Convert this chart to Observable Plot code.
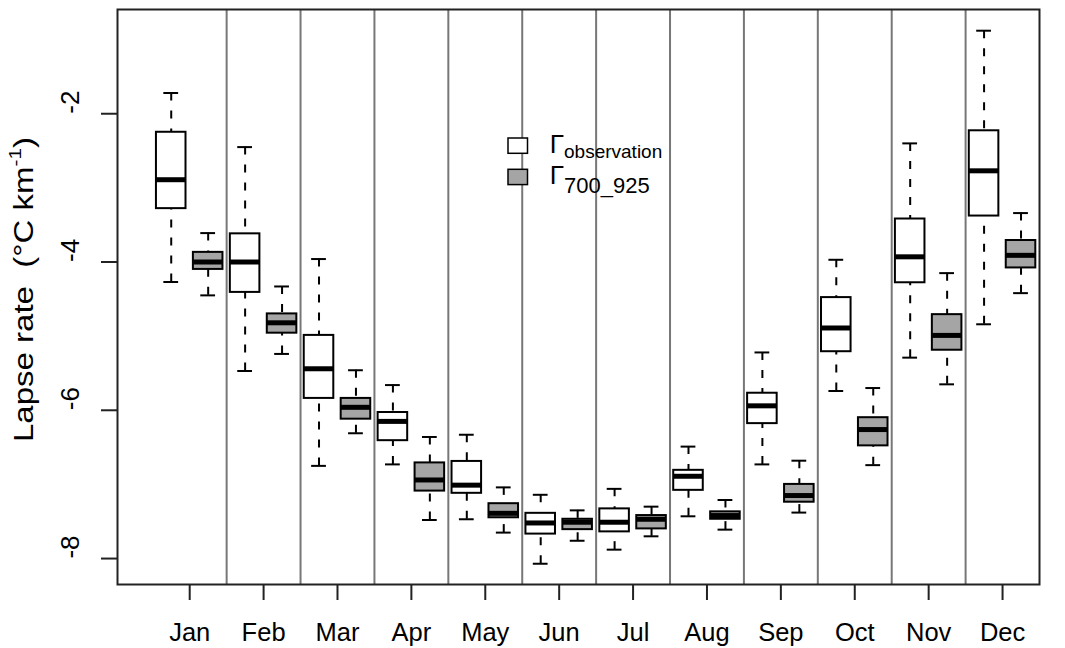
<!DOCTYPE html>
<html>
<head>
<meta charset="utf-8">
<script src="https://cdn.jsdelivr.net/npm/d3@7"></script>
<script src="https://cdn.jsdelivr.net/npm/@observablehq/plot@0.6"></script>
<style>
  html, body { margin: 0; padding: 0; background: white; }
  #chart { position: relative; width: 1065px; height: 648px; }
</style>
</head>
<body>
<div id="chart"></div>
<script>
const months = ["Jan","Feb","Mar","Apr","May","Jun","Jul","Aug","Sep","Oct","Nov","Dec"];
const yTicks = [-2, -4, -6, -8];

// Γ observation
const obsLow  = [-4.27, -5.47, -6.75, -6.73, -7.47, -8.07, -7.88, -7.43, -6.73, -5.74, -5.29, -4.84];
const obsQ1   = [-3.28, -4.41, -5.84, -6.41, -7.12, -7.67, -7.64, -7.08, -6.18, -5.21, -4.28, -3.38];
const obsMed  = [-2.89, -4.00, -5.44, -6.15, -7.01, -7.52, -7.51, -6.89, -5.94, -4.89, -3.93, -2.77];
const obsQ3   = [-2.25, -3.62, -4.99, -6.03, -6.69, -7.39, -7.33, -6.81, -5.77, -4.48, -3.42, -2.23];
const obsHigh = [-1.72, -2.45, -3.96, -5.66, -6.33, -7.14, -7.06, -6.49, -5.22, -3.97, -2.40, -0.88];

// Γ 700_925
const rLow  = [-4.45, -5.24, -6.31, -7.48, -7.65, -7.76, -7.70, -7.61, -7.38, -6.74, -5.65, -4.42];
const rQ1   = [-4.10, -4.96, -6.12, -7.09, -7.45, -7.61, -7.60, -7.47, -7.24, -6.48, -5.19, -4.08];
const rMed  = [-4.00, -4.82, -5.96, -6.94, -7.39, -7.51, -7.47, -7.42, -7.15, -6.26, -4.99, -3.91];
const rQ3   = [-3.87, -4.70, -5.84, -6.71, -7.26, -7.47, -7.42, -7.37, -7.00, -6.10, -4.71, -3.71];
const rHigh = [-3.61, -4.33, -5.46, -6.36, -7.04, -7.35, -7.30, -7.21, -6.68, -5.70, -4.15, -3.34];

const obsFill = "white";
const rFill = "#a5a5a5";

const boxes = months.flatMap((m, i) => [
  {month: m, pos: 2 * i + 1, low: obsLow[i], q1: obsQ1[i], med: obsMed[i], q3: obsQ3[i], high: obsHigh[i], fill: obsFill},
  {month: m, pos: 2 * i + 2, low: rLow[i], q1: rQ1[i], med: rMed[i], q3: rQ3[i], high: rHigh[i], fill: rFill}
]);
const whiskers = boxes.flatMap(b => [
  {pos: b.pos, end: b.high, edge: b.q3},
  {pos: b.pos, end: b.low, edge: b.q1}
]);
const monthPos = months.map((m, i) => 2 * i + 1.5);
const separators = months.slice(1).map((m, i) => 2 * i + 2.5);

const fontFamily = "'Liberation Sans', Arial, sans-serif";
const boxHalf = 0.4, capHalf = 0.2;

const plot = Plot.plot({
  width: 1065,
  height: 648,
  marginLeft: 117,
  marginRight: 26,
  marginTop: 9,
  marginBottom: 64,
  x: {type: "linear", domain: [-0.454, 24.5]},
  y: {domain: [-8.35, -0.594]},
  style: {fontFamily, color: "black", background: "white"},
  marks: [
    Plot.ruleX(separators, {x: d => d, stroke: "#777", strokeWidth: 2}),
    Plot.frame({stroke: "#222", strokeWidth: 2}),
    Plot.axisY({ticks: yTicks, tickSize: 16, tickFormat: () => "", label: null, stroke: "#222", strokeWidth: 2}),
    Plot.text(yTicks, {y: d => d, text: d => String(d), frameAnchor: "left", dx: -47, rotate: -90, fontSize: 26, fill: "black"}),
    Plot.axisX({ticks: monthPos, tickFormat: d => months[Math.round((d - 1.5) / 2)], tickSize: 16, tickPadding: 22, fontSize: 25.5, label: null, stroke: "#222", strokeWidth: 2}),
    Plot.ruleX(whiskers, {x: "pos", y1: "end", y2: "edge", stroke: "black", strokeWidth: 2, strokeDasharray: "8,10"}),
    Plot.ruleY(boxes, {y: "high", x1: d => d.pos - capHalf, x2: d => d.pos + capHalf, stroke: "black", strokeWidth: 2}),
    Plot.ruleY(boxes, {y: "low", x1: d => d.pos - capHalf, x2: d => d.pos + capHalf, stroke: "black", strokeWidth: 2}),
    Plot.rect(boxes, {x1: d => d.pos - boxHalf, x2: d => d.pos + boxHalf, y1: "q1", y2: "q3", fill: "fill", stroke: "black", strokeWidth: 2}),
    Plot.ruleY(boxes, {y: "med", x1: d => d.pos - boxHalf, x2: d => d.pos + boxHalf, stroke: "black", strokeWidth: 5})
  ]
});

document.getElementById("chart").appendChild(plot);

// Axis title and legend (annotations)
const svg = d3.select(plot);
const title = svg.append("text")
  .attr("transform", "translate(33,442) rotate(-90)")
  .attr("text-anchor", "start")
  .attr("font-family", fontFamily)
  .attr("font-size", 27)
  .attr("fill", "black")
  .attr("textLength", 305)
  .attr("lengthAdjust", "spacingAndGlyphs")
  .attr("xml:space", "preserve");
title.append("tspan").text("Lapse rate  (°C km");
title.append("tspan").attr("font-size", 17).attr("dy", -12).text("-1");
title.append("tspan").attr("dy", 12).text(")");

const legend = svg.append("g").attr("font-family", fontFamily).attr("fill", "black").attr("text-anchor", "start");
legend.append("rect").attr("x", 508).attr("y", 138).attr("width", 19.5).attr("height", 15.3)
  .attr("fill", obsFill).attr("stroke", "black").attr("stroke-width", 1.5);
legend.append("rect").attr("x", 508).attr("y", 169.3).attr("width", 19.5).attr("height", 15.3)
  .attr("fill", rFill).attr("stroke", "black").attr("stroke-width", 1.5);
const t1 = legend.append("text").attr("x", 549.7).attr("y", 152.7).attr("font-size", 26).attr("text-anchor", "start");
t1.append("tspan").text("Γ");
t1.append("tspan").attr("font-size", 19).attr("dy", 5.6).text("observation");
const t2 = legend.append("text").attr("x", 549.7).attr("y", 184).attr("font-size", 26).attr("text-anchor", "start");
t2.append("tspan").text("Γ");
t2.append("tspan").attr("font-size", 22).attr("dy", 9.3).text("700_925");
</script>
</body>
</html>
